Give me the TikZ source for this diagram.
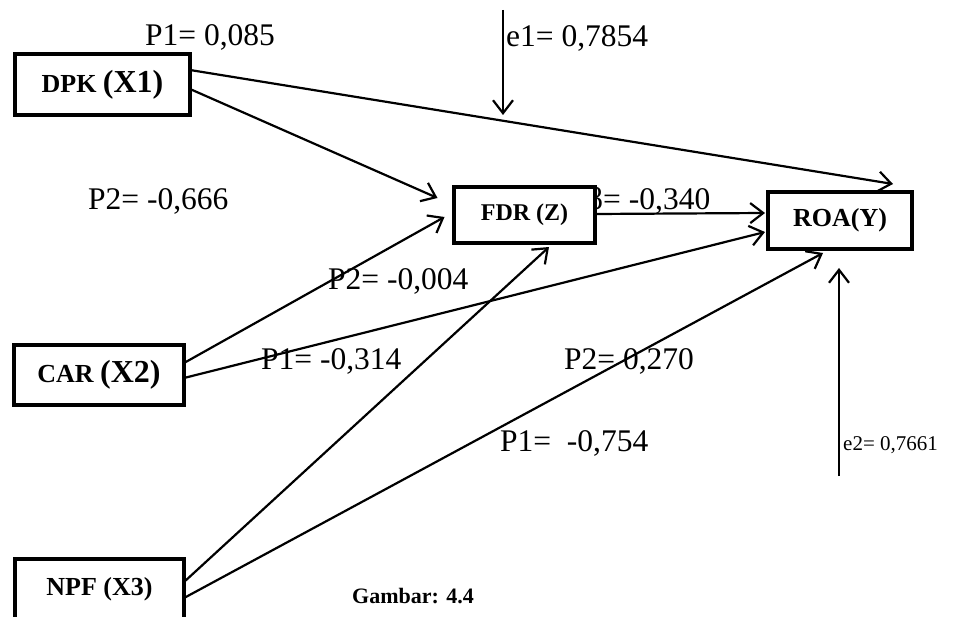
\documentclass[tikz,border=0pt]{standalone}
\usepackage{fontspec}
\setmainfont{Liberation Serif}
\usetikzlibrary{arrows.meta}
\newcommand\lblfont{\fontsize{31.5pt}{36pt}\selectfont}
\newcommand\smallfont{\fontsize{21pt}{25pt}\selectfont}
\newcommand\boxsmall{\fontsize{26pt}{30pt}\selectfont\bfseries}
\newcommand\boxbig{\fontsize{32pt}{36pt}\selectfont\bfseries}
\begin{document}
\begin{tikzpicture}[x=1pt,y=-1pt,
  varbox/.style={draw,line width=4pt,fill=white,inner sep=0pt,outer sep=0pt},
  lbl/.style={anchor=base west,inner sep=0pt,font=\lblfont},
  conn/.style={line width=2.2pt,-{Straight Barb[length=13pt,width=20pt]}}]
\useasboundingbox (0,0) rectangle (965,617);
\clip (0,0) rectangle (965,617);
% labels
\node[lbl] (l1) at (145,46) {P1= 0,085};
\node[lbl] (l2) at (506,47) {e1= 0,7854};
\node[lbl] (l3) at (88,210) {P2= -0,666};
\node[lbl] (l4) at (587,210) {β= -0,340};
\node[lbl] (l5) at (328,290) {P2= -0,004};
\node[lbl] (l6) at (261,369) {P1= -0,314};
\node[lbl] (l7) at (564,369) {P2= 0,270};
\node[lbl] (l8) at (500,451) {P1=\ \ -0,754};
\node[lbl,font=\smallfont] (l9) at (843,450) {e2= 0,7661};
\node[lbl,font=\fontsize{22pt}{26pt}\selectfont\bfseries] (cap) at (352,603) {Gambar: 4.4};
% boxes
\node[varbox,minimum width=175pt,minimum height=61pt] (dpk) at (102.5,84.5) {\boxsmall DPK \boxbig(X1)};
\node[varbox,minimum width=141pt,minimum height=56pt] (fdr) at (524.5,215) {\fontsize{24pt}{28pt}\selectfont\bfseries FDR (Z)};
\node[varbox,minimum width=144pt,minimum height=57pt] (roa) at (840,220.5) {\boxsmall ROA(Y)};
\node[varbox,minimum width=170pt,minimum height=60pt] (car) at (99,375) {\boxsmall CAR \boxbig(X2)};
\node[varbox,minimum width=169pt,minimum height=60pt] (npf) at (99.5,589) {\boxsmall NPF (X3)};
% error terms
\coordinate (e1s) at (503,10);
\coordinate (e1t) at (503,115);
\coordinate (e2s) at (839,476);
% connectors
\draw[conn] ([yshift=14.5pt]dpk.east) -- ([xshift=53pt,yshift=8pt]roa.north);
\draw[conn] ([yshift=-4.5pt]dpk.east) -- ([xshift=-16.5pt,yshift=17pt]fdr.west);
\draw[conn] ([yshift=12pt]car.east) -- ([xshift=-9.5pt,yshift=-2pt]fdr.west);
\draw[conn] ([yshift=-3pt]car.east) -- ([xshift=-3pt,yshift=-11.5pt]roa.west);
\draw[conn] ([yshift=1pt]fdr.east) -- ([xshift=-3pt,yshift=7.5pt]roa.west);
\draw[conn] ([yshift=7pt]npf.east) -- ([xshift=24.5pt,yshift=-4pt]fdr.south);
\draw[conn] ([yshift=-9pt]npf.east) -- ([xshift=-17pt,yshift=-4pt]roa.south);
\draw[conn] (e1s) -- (e1t);
\draw[conn] (e2s) -- ([xshift=-1pt,yshift=-19pt]roa.south);
\end{tikzpicture}
\end{document}
